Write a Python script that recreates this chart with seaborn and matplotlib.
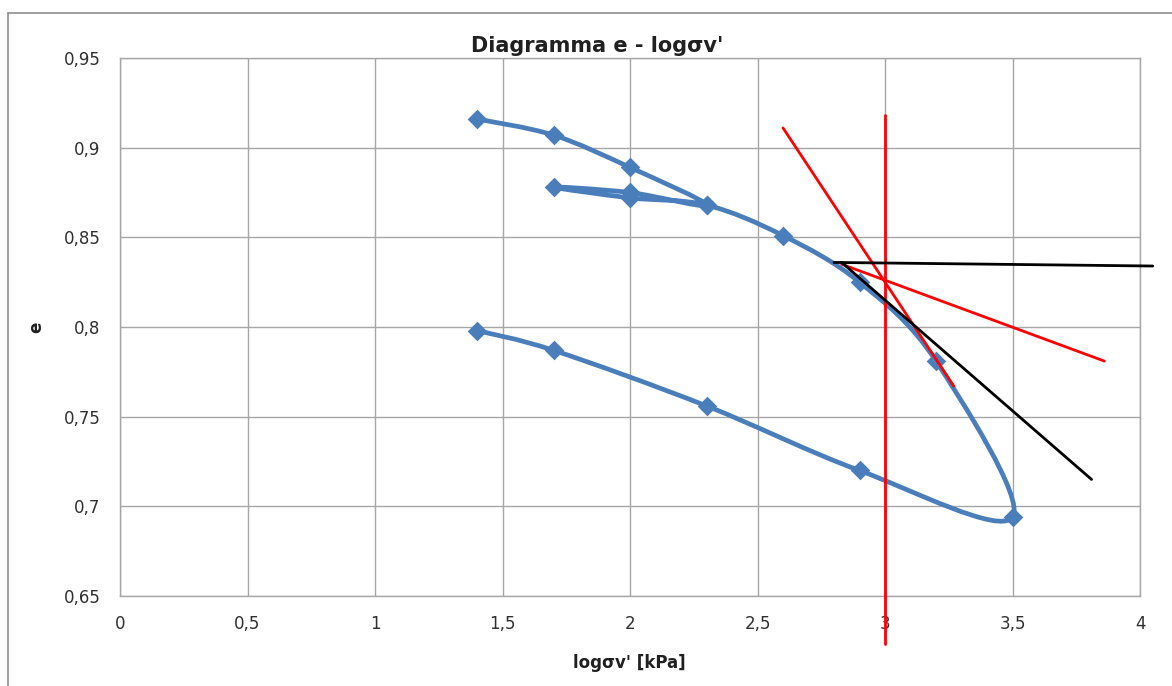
import numpy as np
import pandas as pd
import matplotlib
matplotlib.use('Agg')
import matplotlib.pyplot as plt
from matplotlib.path import Path
from matplotlib.patches import PathPatch
import seaborn as sns

# oedometer test: load / unload / reload / load / unload
log_sv = [1.4, 1.7, 2.0, 2.3, 2.0, 1.7, 2.0, 2.3, 2.6, 2.9, 3.2, 3.5, 2.9, 2.3, 1.7, 1.4]
e_void = [0.916, 0.907, 0.889, 0.868, 0.875, 0.878, 0.872, 0.868, 0.851, 0.825, 0.781,
          0.694, 0.720, 0.756, 0.787, 0.798]

# Casagrande construction lines (x pairs, y pairs)
red_vert_x = [3.0, 3.0]
red_vert_y = [0.918, 0.623]
red_steep_x = [2.6, 3.27]
red_steep_y = [0.911, 0.767]
red_bis_x = [2.83, 3.86]
red_bis_y = [0.835, 0.781]
blk_hor_x = [2.8, 4.05]
blk_hor_y = [0.836, 0.834]
blk_tan_x = [2.83, 3.81]
blk_tan_y = [0.836, 0.715]

x_ticks = [0, 0.5, 1, 1.5, 2, 2.5, 3, 3.5, 4]
y_ticks = [0.65, 0.7, 0.75, 0.8, 0.85, 0.9, 0.95]

sns.set_style('white')
plt.rcParams['font.family'] = ['DejaVu Sans']

W, H = 1172, 686
fig = plt.figure(figsize=(W / 100, H / 100), dpi=100)
ax = fig.add_axes([120 / W, 1 - 596 / H, (1140 - 120) / W, (596 - 58) / H])

# excel-like smoothed line: cubic bezier segments through the measured points
pts = np.column_stack([log_sv, e_void])
verts = [pts[0]]
codes = [Path.MOVETO]
n = len(pts)
for i in range(n - 1):
    p0 = pts[max(i - 1, 0)]
    p1 = pts[i]
    p2 = pts[i + 1]
    p3 = pts[min(i + 2, n - 1)]
    verts += [p1 + (p2 - p0) / 6, p2 - (p3 - p1) / 6, p2]
    codes += [Path.CURVE4] * 3
blue = '#4a7ebb'
ax.add_patch(PathPatch(Path(verts, codes), facecolor='none', edgecolor=blue,
                       lw=3.4, capstyle='round', joinstyle='round', zorder=3))

df = pd.DataFrame({'x': log_sv, 'e': e_void})
sns.scatterplot(data=df, x='x', y='e', marker='D', s=100, color=blue,
                edgecolor=blue, linewidth=0, zorder=4, ax=ax, clip_on=False)

for xs, ys, c in [(red_vert_x, red_vert_y, 'red'), (red_steep_x, red_steep_y, 'red'),
                  (red_bis_x, red_bis_y, 'red'), (blk_hor_x, blk_hor_y, 'black'),
                  (blk_tan_x, blk_tan_y, 'black')]:
    sns.lineplot(x=xs, y=ys, sort=False, color=c, lw=2, ax=ax, zorder=5,
                 estimator=None, clip_on=False)

ax.set_xlim(0, 4)
ax.set_ylim(0.65, 0.95)
ax.set_xticks(x_ticks)
ax.set_yticks(y_ticks)
ax.set_xticklabels([f'{v:g}'.replace('.', ',') for v in x_ticks], fontsize=12, color='#303030')
ax.set_yticklabels([f'{v:g}'.replace('.', ',') for v in y_ticks], fontsize=12, color='#303030')
ax.tick_params(length=0, pad=14)
ax.grid(True, color='#a6a6a6', lw=1)
for s in ax.spines.values():
    s.set_color('#a6a6a6')
    s.set_linewidth(1)
ax.set_xlabel('')
ax.set_ylabel('')

fig.text(597 / W, 1 - 46 / H, "Diagramma e - logσv'", ha='center', va='center',
         fontsize=15, fontweight='bold', color='#202020')
fig.text(629 / W, 1 - 663 / H, "logσv' [kPa]", ha='center', va='center',
         fontsize=12, fontweight='bold', color='#202020')
fig.text(36 / W, 1 - 327 / H, 'e', ha='center', va='center', rotation=90,
         fontsize=12, fontweight='bold', color='#202020')

# chart area border (left and top edges visible)
fig.add_artist(plt.Line2D([8 / W, 8 / W], [0, 1 - 13 / H], color='#8c8c8c', lw=1.2))
fig.add_artist(plt.Line2D([8 / W, 1], [1 - 13 / H, 1 - 13 / H], color='#8c8c8c', lw=1.2))

fig.savefig('out.png', dpi=100)
